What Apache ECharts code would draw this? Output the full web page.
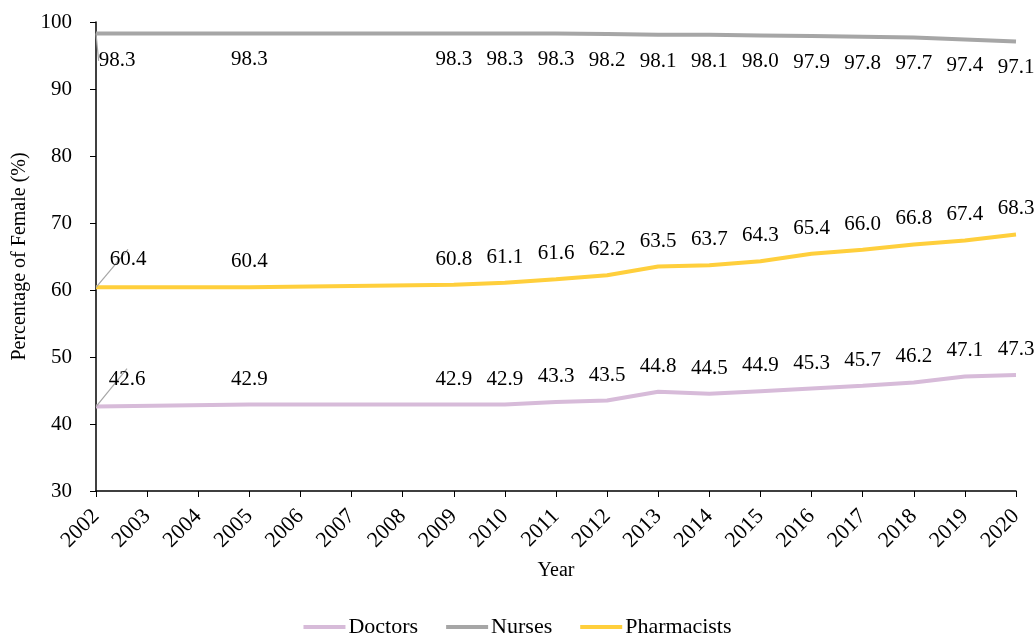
<!DOCTYPE html>
<html>
<head>
<meta charset="utf-8">
<script src="https://cdn.jsdelivr.net/npm/echarts@6/dist/echarts.min.js"></script>
<style>
html, body { margin: 0; padding: 0; background: #fff; }
#chart { width: 1035px; height: 634px; }
</style>
</head>
<body>
<div id="chart"></div>
<script>
// years on the axis; null = no value reported for that year
var years = ['2002','2003','2004','2005','2006','2007','2008','2009','2010','2011','2012','2013','2014','2015','2016','2017','2018','2019','2020'];
var doctors     = [42.6, null, null, 42.9, null, null, null, 42.9, 42.9, 43.3, 43.5, 44.8, 44.5, 44.9, 45.3, 45.7, 46.2, 47.1, 47.3];
var nurses      = [98.3, null, null, 98.3, null, null, null, 98.3, 98.3, 98.3, 98.2, 98.1, 98.1, 98.0, 97.9, 97.8, 97.7, 97.4, 97.1];
var pharmacists = [60.4, null, null, 60.4, null, null, null, 60.8, 61.1, 61.6, 62.2, 63.5, 63.7, 64.3, 65.4, 66.0, 66.8, 67.4, 68.3];

var font = 'Liberation Serif';

// first point gets a gray leader line, label pushed to the side
function withLeader(arr) {
    return arr.map(function (v, i) {
        if (i === 0) {
            return { value: v, labelLine: { show: true, lineStyle: { color: '#A6A6A6', width: 1.2 } } };
        }
        return v;
    });
}

function makeSeries(name, data, color, pos, dist, dx, dy) {
    return {
        name: name,
        type: 'line',
        data: withLeader(data),
        connectNulls: true,
        showSymbol: true,
        symbol: 'circle',
        symbolSize: 0,
        color: color,
        lineStyle: { width: 4, color: color },
        label: {
            show: true,
            position: pos,
            distance: dist,
            color: '#000',
            fontFamily: font,
            fontSize: 21,
            formatter: function (p) { return p.value == null ? '' : Number(p.value).toFixed(1); }
        },
        labelLayout: function (p) {
            if (p.dataIndex === 0) return { dx: dx, dy: dy };
            return {};
        }
    };
}

var myChart = echarts.init(document.getElementById('chart'));
var option = {
    animation: false,
    grid: { left: 96, right: 19, top: 22, bottom: 143 },
    legend: {
        data: ['Doctors', 'Nurses', 'Pharmacists'],
        bottom: -9,
        left: 'center',
        icon: 'rect',
        itemWidth: 42,
        itemHeight: 4,
        itemGap: 28,
        textStyle: { fontFamily: font, fontSize: 22, color: '#000', padding: [0, 0, 0, -2] }
    },
    xAxis: {
        type: 'category',
        data: years,
        boundaryGap: false,
        name: 'Year',
        nameLocation: 'middle',
        nameGap: 70,
        nameTextStyle: { fontFamily: font, fontSize: 20, color: '#000' },
        axisLine: { lineStyle: { color: '#000', width: 1.5 } },
        axisTick: { show: true, alignWithLabel: true, length: 6, lineStyle: { color: '#000' } },
        axisLabel: { rotate: 45, fontFamily: font, fontSize: 22, color: '#000', margin: 22, interval: 0 },
        splitLine: { show: false }
    },
    yAxis: {
        type: 'value',
        min: 30,
        max: 100,
        interval: 10,
        name: 'Percentage of Female (%)',
        nameLocation: 'middle',
        nameGap: 61,
        nameTextStyle: { fontFamily: font, fontSize: 20, color: '#000' },
        axisLine: { show: true, lineStyle: { color: '#000', width: 1.5 } },
        axisTick: { show: true, length: 6, lineStyle: { color: '#000' } },
        axisLabel: { fontFamily: font, fontSize: 21, color: '#000', margin: 24 },
        splitLine: { show: false }
    },
    series: [
        makeSeries('Doctors', doctors, '#D7BBD9', 'top', 15, 31, -2),
        makeSeries('Nurses', nurses, '#A6A6A6', 'bottom', 16, 21, 1),
        makeSeries('Pharmacists', pharmacists, '#FFCF3C', 'top', 15, 32, -2)
    ]
};
myChart.setOption(option);
window.addEventListener('resize', function () { myChart.resize(); });
</script>
</body>
</html>
